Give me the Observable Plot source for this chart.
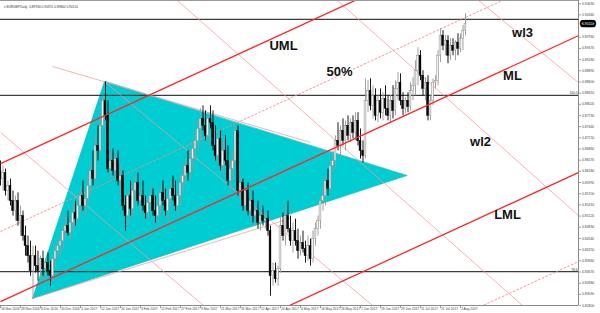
<!DOCTYPE html>
<html><head><meta charset="utf-8">
<script src="https://cdn.jsdelivr.net/npm/d3@7"></script>
<script src="https://cdn.jsdelivr.net/npm/@observablehq/plot@0.6"></script>
<style>html,body{margin:0;padding:0;background:#fff;overflow:hidden}svg{display:block}</style>
</head><body><div id="chart"></div>
<script>
// EURGBP daily OHLC, in pips (price x 10^4), bar 0 = 16 Nov 2016
const open = [
8629,8608,8624,8577,8590,8551,8525,8551,8499,8512,
8460,8434,8408,8369,8408,8382,8369,8400,8374,8390,
8369,8356,8400,8421,8434,8447,8473,8486,8468,8494,
8520,8504,8538,8564,8538,8556,8590,8629,8608,8694,
8681,8746,8811,8772,8634,8655,8629,8660,8603,8616,
8538,8512,8564,8530,8577,8598,8551,8564,8538,8520,
8546,8564,8525,8512,8538,8572,8551,8525,8556,8582,
8564,8538,8564,8598,8616,8642,8624,8660,8686,8707,
8738,8764,8746,8720,8764,8754,8694,8668,8712,8642,
8681,8655,8603,8634,8655,8733,8577,8598,8538,8577,
8525,8551,8512,8525,8494,8512,8499,8504,8473,8356,
8369,8348,8374,8486,8460,8512,8478,8447,8473,8447,
8421,8442,8426,8408,8434,8400,8452,8478,8499,8551,
8564,8603,8582,8642,8655,8707,8694,8733,8707,8746,
8720,8754,8728,8759,8707,8681,8668,8811,8837,8798,
8824,8772,8811,8780,8816,8790,8772,8811,8785,8842,
8858,8811,8790,8811,8795,8837,8850,8889,8928,8876,
8842,8858,8772,8811,8858,8863,8928,8980,8954,8967,
8928,8954,8941,8962,8946,8972,8993];
const high = [
8655,8642,8634,8603,8608,8577,8564,8572,8538,8525,
8486,8460,8447,8434,8434,8421,8408,8421,8400,8416,
8395,8408,8434,8452,8460,8486,8512,8525,8504,8538,
8551,8556,8590,8603,8577,8616,8655,8681,8720,8746,
8772,8824,8860,8811,8681,8686,8676,8681,8642,8629,
8564,8577,8603,8590,8616,8624,8582,8603,8564,8556,
8590,8582,8564,8551,8590,8603,8582,8564,8603,8616,
8603,8577,8616,8642,8660,8681,8681,8707,8733,8759,
8790,8798,8785,8780,8798,8785,8746,8733,8733,8707,
8720,8694,8655,8681,8746,8746,8616,8608,8590,8598,
8564,8577,8538,8551,8525,8538,8520,8525,8486,8390,
8390,8382,8512,8520,8538,8551,8512,8494,8504,8478,
8460,8473,8447,8460,8452,8473,8494,8512,8564,8590,
8616,8634,8655,8681,8720,8754,8746,8764,8759,8772,
8764,8772,8780,8780,8738,8707,8868,8863,8868,8850,
8842,8824,8842,8832,8850,8824,8824,8850,8863,8884,
8881,8832,8819,8832,8858,8871,8915,8949,8941,8889,
8871,8876,8824,8868,8876,8941,8998,8993,8980,8980,
8972,8972,8967,8985,8985,9006,9037];
const low = [
8590,8577,8564,8551,8538,8512,8499,8486,8460,8447,
8408,8390,8356,8296,8364,8343,8348,8356,8338,8356,
8330,8343,8382,8400,8408,8426,8452,8460,8447,8473,
8486,8494,8520,8525,8512,8538,8564,8590,8598,8655,
8668,8733,8759,8624,8608,8616,8608,8590,8564,8525,
8473,8486,8512,8504,8551,8538,8512,8525,8504,8499,
8525,8512,8494,8486,8520,8538,8512,8494,8538,8551,
8525,8512,8538,8572,8590,8603,8608,8629,8655,8676,
8712,8733,8707,8694,8738,8681,8655,8650,8629,8616,
8642,8590,8577,8603,8642,8564,8551,8525,8520,8512,
8504,8494,8486,8478,8473,8486,8478,8460,8304,8330,
8338,8330,8364,8447,8434,8468,8434,8416,8434,8400,
8408,8416,8390,8395,8382,8390,8434,8460,8478,8525,
8538,8564,8572,8624,8634,8681,8668,8694,8681,8707,
8702,8712,8707,8694,8660,8650,8660,8780,8785,8764,
8759,8754,8764,8759,8772,8759,8754,8764,8772,8811,
8798,8772,8777,8780,8785,8811,8824,8850,8863,8824,
8811,8759,8759,8798,8842,8850,8910,8941,8928,8907,
8915,8928,8915,8928,8936,8941,8980];
const close = [
8608,8624,8577,8590,8551,8525,8551,8499,8512,8460,
8434,8408,8369,8408,8382,8369,8400,8374,8390,8369,
8356,8400,8421,8434,8447,8473,8486,8468,8494,8520,
8504,8538,8564,8538,8556,8590,8629,8608,8694,8681,
8746,8811,8772,8634,8655,8629,8660,8603,8616,8538,
8512,8564,8530,8577,8598,8551,8564,8538,8520,8546,
8564,8525,8512,8538,8572,8551,8525,8556,8582,8564,
8538,8564,8598,8616,8642,8624,8660,8686,8707,8738,
8764,8746,8720,8764,8754,8694,8668,8712,8642,8681,
8655,8603,8634,8655,8733,8577,8598,8538,8577,8525,
8551,8512,8525,8494,8512,8499,8504,8473,8356,8369,
8348,8374,8486,8460,8512,8478,8447,8473,8447,8421,
8442,8426,8408,8434,8400,8452,8478,8499,8551,8564,
8603,8582,8642,8655,8707,8694,8733,8707,8746,8720,
8754,8728,8759,8707,8681,8668,8811,8837,8798,8824,
8772,8811,8780,8816,8790,8772,8811,8785,8842,8858,
8811,8790,8811,8795,8837,8850,8889,8928,8876,8842,
8858,8772,8811,8858,8863,8928,8980,8954,8967,8928,
8954,8941,8962,8946,8972,8993,9011];

// x axis: bar index of each date label
const tickBars = [0,8,16,24,32,40,48,56,64,72,80,88,96,104,112,120,128,136,144,152,160,168,176,184];
const dateLabels = ["16 Nov 2016","28 Nov 2016","8 Dec 2016","20 Dec 2016","3 Jan 2017","12 Jan 2017","24 Jan 2017","3 Feb 2017","15 Feb 2017","27 Feb 2017","9 Mar 2017","21 Mar 2017","31 Mar 2017","12 Apr 2017","24 Apr 2017","4 May 2017","16 May 2017","26 May 2017","7 Jun 2017","19 Jun 2017","29 Jun 2017","11 Jul 2017","21 Jul 2017","2 Aug 2017"];
// y axis tick labels
const priceTickLabels = ["0.82800","0.83090","0.83380","0.83670","0.83960","0.84250","0.84540","0.84830","0.85120","0.85410","0.85700","0.85990","0.86280","0.86570","0.86860","0.87150","0.87440","0.87730","0.88020","0.88310","0.88600","0.88890","0.89180","0.89470","0.89760","0.90050","0.90340","0.90630"];

// drawing objects (bar index, pips)
const levels = [9022, 8825, 8368];
const levelLabels = ["", "100.0", "78.6"];
const pitchfork = [
  {i1:0, p1:8648, i2:231.2, p2:9338},
  {i1:0, p1:8290, i2:231.2, p2:8980},
  {i1:0, p1:7935, i2:231.2, p2:8625}
];
const halfLines = [
  {i1:0, p1:8472, i2:231.2, p2:9162},
  {i1:0, p1:7704, i2:231.2, p2:8394}
];
const thinLines = [
  {i1:0, p1:8729, i2:81.2, p2:8280},
  {i1:41.6, p1:8861, i2:148.8, p2:8280},
  {i1:70.8, p1:9071, i2:208.8, p2:8280},
  {i1:134.8, p1:9071, i2:231.2, p2:8513},
  {i1:191.2, p1:9071, i2:231.2, p2:8858},
  {i1:20.8, p1:8900, i2:124, p2:8703},
  {i1:12.8, p1:8298, i2:116, p2:8506}
];
const triangle = [{i:41.6,p:8861},{i:12.8,p:8298},{i:162.5,p:8617}];
const annotations = [
  {label:"UML", i:113.2, p:8954},
  {label:"50%", i:135.6, p:8887},
  {label:"wl3", i:208.8, p:8988},
  {label:"ML", i:204.8, p:8876},
  {label:"wl2", i:192, p:8705},
  {label:"LML", i:202.8, p:8516}
];

const bars = close.map((c, i) => ({i, o: open[i]/1e4, h: high[i]/1e4, l: low[i]/1e4, c: c/1e4}));
const up = d => d.c >= d.o;
const last = bars[bars.length - 1];
const pv = v => v / 1e4;
// tick labels; the one hidden behind the current-price box is left out
const ticks = priceTickLabels.map(t => ({v: Number(t), t})).filter(d => Math.abs(d.v - last.c) > 0.0018);

const chart = Plot.plot({
  width: 600, height: 313,
  marginTop: 0, marginBottom: 8, marginLeft: 0, marginRight: 22,
  x: {domain: [0, 231.2], axis: null},
  y: {domain: [0.828, 0.90712], axis: null},
  color: {type: "identity"},
  style: {background: "#fff", fontFamily: "'Liberation Sans', Arial, sans-serif", overflow: "visible"},
  marks: [
    Plot.line(triangle, {x: "i", y: d => pv(d.p), curve: "linear-closed", fill: "#00cdd1", stroke: "#00b3b6", strokeWidth: 0.6, clip: true}),
    Plot.ruleY(levels.map(pv), {stroke: "#3c3c3c", strokeWidth: 1.3}),
    Plot.text(levels.map((v, k) => ({v: pv(v), t: levelLabels[k]})), {x: 231.2, y: "v", text: "t", textAnchor: "end", dx: -1, dy: -2, fontSize: 3.2, fill: "#333"}),
    Plot.link(thinLines, {x1: "i1", y1: d => pv(d.p1), x2: "i2", y2: d => pv(d.p2), stroke: "#f29a9a", strokeWidth: 0.9, strokeOpacity: 0.85, clip: true}),
    Plot.link(halfLines, {x1: "i1", y1: d => pv(d.p1), x2: "i2", y2: d => pv(d.p2), stroke: "#f08a8a", strokeWidth: 0.9, strokeDasharray: "2.5,1.5", clip: true}),
    Plot.ruleX(bars, {x: "i", y1: "l", y2: "h", stroke: d => up(d) ? "#999" : "#000", strokeWidth: 0.9, clip: true}),
    Plot.rect(bars, {x1: d => d.i - 0.36, x2: d => d.i + 0.36, y1: d => Math.min(d.o, d.c), y2: d => Math.max(d.o, d.c), fill: d => up(d) ? "#f4f4f4" : "#000", stroke: d => up(d) ? "#8c8c8c" : "#000", strokeWidth: 0.5, clip: true}),
    Plot.link(pitchfork, {x1: "i1", y1: d => pv(d.p1), x2: "i2", y2: d => pv(d.p2), stroke: "#ff2626", strokeWidth: 1.3, clip: true}),
    Plot.text(annotations, {x: "i", y: d => pv(d.p), text: "label", fontSize: 13, fontWeight: "bold", fill: "#111"}),
    // frame lines
    Plot.ruleY([0.90712], {stroke: "#9a9a9a", strokeWidth: 1}),
    Plot.ruleY([0.828], {stroke: "#8a8a8a", strokeWidth: 1}),
    Plot.ruleX([231.2], {stroke: "#8a8a8a", strokeWidth: 1}),
    // right axis
    Plot.link(ticks, {x1: 231.2, x2: 232.2, y1: "v", y2: "v", stroke: "#777", strokeWidth: 0.7}),
    Plot.text(ticks, {x: 231.2, y: "v", text: "t", dx: 3.5, textAnchor: "start", fontSize: 3.4, fill: "#444"}),
    Plot.text([last], {x: 231.2, y: "c", text: d => d.c.toFixed(5), dx: 3.5, textAnchor: "start", fontSize: 3.4, fill: "#fff", stroke: "#000", strokeWidth: 4.5, paintOrder: "stroke"}),
    // bottom axis
    Plot.link(tickBars, {x1: d => d, x2: d => d, y1: 0.828, y2: 0.8273, stroke: "#777", strokeWidth: 0.7}),
    Plot.text(tickBars, {x: d => d, text: (d, k) => dateLabels[k], frameAnchor: "bottom", dy: 4.5, dx: 0.5, textAnchor: "start", fontSize: 3.3, fill: "#444"}),
    // title
    Plot.text([last], {frameAnchor: "top-left", dx: 3, dy: 5, text: d => `\u25BE EURGBP,Daily  ${d.o.toFixed(5)} ${d.h.toFixed(5)} ${d.l.toFixed(5)} ${d.c.toFixed(5)}`, fontSize: 3.2, fill: "#333", textAnchor: "start"})
  ]
});
document.getElementById("chart").appendChild(chart);
</script>
</body></html>
